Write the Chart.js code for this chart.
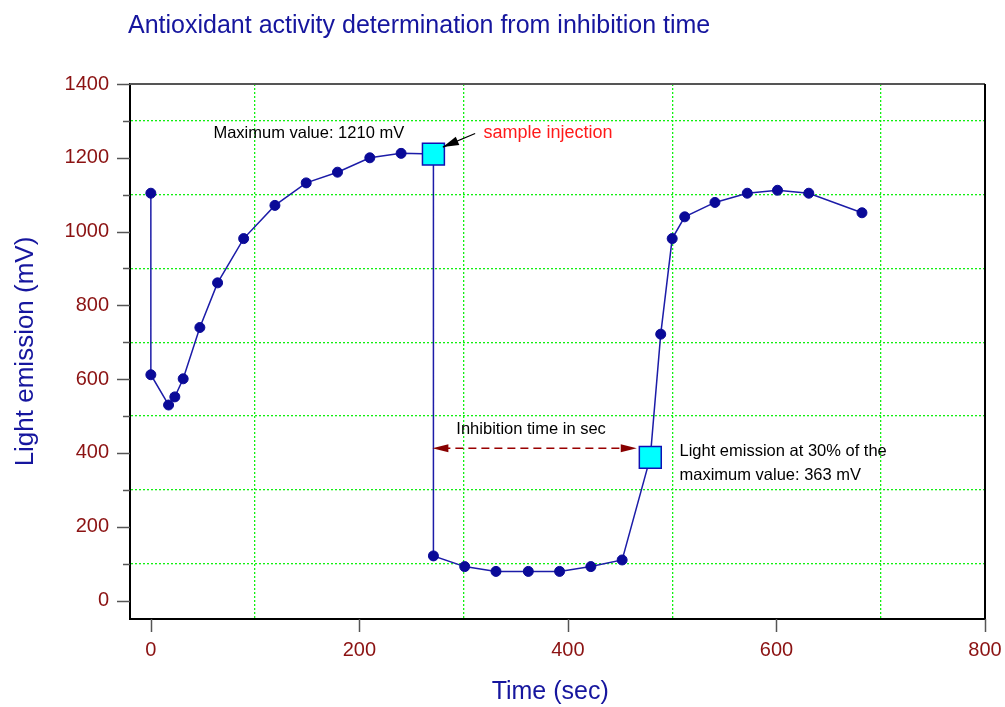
<!DOCTYPE html>
<html>
<head>
<meta charset="utf-8">
<script src="https://cdn.jsdelivr.net/npm/chart.js@4/dist/chart.umd.min.js"></script>
<style>
html,body{margin:0;padding:0;background:#fff;}
#wrap{width:1005px;height:707px;}
</style>
</head>
<body>
<div id="wrap"><canvas id="c" width="1005" height="707"></canvas></div>
<script>
// ---- data ----
const chartTitle = 'Antioxidant activity determination from inhibition time';
const xAxisTitle = 'Time (sec)';
const yAxisTitle = 'Light emission (mV)';

const timeSec    = [0, 0, 17, 23, 31, 47, 64, 89, 119, 149, 179, 210, 240, 271, 271, 301, 331, 362, 392, 422, 452, 479, 489, 500, 512, 541, 572, 601, 631, 682];
const emissionMV = [1104, 612, 530, 552, 601, 740, 861, 981, 1071, 1132, 1161, 1200, 1212, 1210, 121, 92, 79, 79, 79, 92, 110, 388, 722, 981, 1040, 1079, 1104, 1112, 1104, 1051];
const keyPointIndex = [13, 21];

const xTickValues  = [0, 100, 200, 300, 400, 500, 600, 700, 800];
const xLabelValues = [0, 200, 400, 600, 800];
const xGridValues  = [100, 300, 500, 700];
const yTickValues  = [0, 100, 200, 300, 400, 500, 600, 700, 800, 900, 1000, 1100, 1200, 1300, 1400];
const yLabelValues = [0, 200, 400, 600, 800, 1000, 1200, 1400];
const yGridValues  = [100, 300, 500, 700, 900, 1100, 1300];

const noteTexts  = ['Maximum value: 1210 mV', 'sample injection', 'Inhibition time in sec', 'Light emission at 30% of the', 'maximum value: 363 mV'];
const noteX      = [60, 319, 293, 507, 507];
const noteY      = [1267, 1267, 465, 405, 340];
const injectionArrow  = [[311, 1266], [280, 1229]];
const inhibitionArrow = [[270, 413], [466, 413]];
const xTitleCenter = 383;   // in time units, centre of "Time (sec)"

// ---- styles ----
const FONT = "'Liberation Sans', Arial, sans-serif";
const navy = '#16169e';
const tickLabelColor = '#8b1212';
const gridGreen = '#11f011';
const clear = 'rgba(0,0,0,0)';

const isKey = i => keyPointIndex.includes(i);
const points = timeSec.map((t, i) => ({x: t, y: emissionMV[i]}));

function arrowHead(ctx, x1, y1, x2, y2, len, half, color) {
  const a = Math.atan2(y2 - y1, x2 - x1);
  ctx.save();
  ctx.fillStyle = color;
  ctx.beginPath();
  ctx.moveTo(x2, y2);
  ctx.lineTo(x2 - len * Math.cos(a) + half * Math.sin(a), y2 - len * Math.sin(a) - half * Math.cos(a));
  ctx.lineTo(x2 - len * Math.cos(a) - half * Math.sin(a), y2 - len * Math.sin(a) + half * Math.cos(a));
  ctx.closePath();
  ctx.fill();
  ctx.restore();
}

const decorPlugin = {
  id: 'decor',
  afterDraw(chart) {
    const {ctx, chartArea: ca, scales: {x, y}} = chart;
    ctx.save();
    // frame top & right
    ctx.lineWidth = 2;
    ctx.strokeStyle = '#555';
    ctx.beginPath(); ctx.moveTo(ca.left, ca.top); ctx.lineTo(ca.right, ca.top); ctx.stroke();
    ctx.strokeStyle = '#000';
    ctx.beginPath(); ctx.moveTo(ca.right, ca.top); ctx.lineTo(ca.right, ca.bottom + 1); ctx.stroke();
    // tick marks
    ctx.strokeStyle = '#555';
    ctx.lineWidth = 1.5;
    yTickValues.forEach(v => {
      const py = Math.round(y.getPixelForValue(v)) + 0.5;
      const len = yLabelValues.includes(v) ? 13 : 7;
      ctx.beginPath(); ctx.moveTo(ca.left - len, py); ctx.lineTo(ca.left, py); ctx.stroke();
    });
    xLabelValues.forEach(v => {
      const px = Math.round(x.getPixelForValue(v)) + 0.5;
      ctx.beginPath(); ctx.moveTo(px, ca.bottom); ctx.lineTo(px, ca.bottom + 13); ctx.stroke();
    });
    // title
    ctx.fillStyle = navy;
    ctx.font = '25px ' + FONT;
    ctx.textBaseline = 'middle';
    ctx.textAlign = 'left';
    ctx.fillText(chartTitle, 128, 26);
    // x axis title
    ctx.textAlign = 'center';
    ctx.fillText(xAxisTitle, x.getPixelForValue(xTitleCenter), 692);
    ctx.textAlign = 'left';
    // notes
    noteTexts.forEach((t, i) => {
      ctx.fillStyle = i === 1 ? '#ff1a1a' : '#000';
      ctx.font = (i === 1 ? '18px ' : '16.5px ') + FONT;
      ctx.fillText(t, x.getPixelForValue(noteX[i]), y.getPixelForValue(noteY[i]));
    });
    // injection arrow
    const ax1 = x.getPixelForValue(injectionArrow[0][0]), ay1 = y.getPixelForValue(injectionArrow[0][1]);
    const ax2 = x.getPixelForValue(injectionArrow[1][0]), ay2 = y.getPixelForValue(injectionArrow[1][1]);
    ctx.strokeStyle = '#000'; ctx.lineWidth = 1.2;
    ctx.beginPath(); ctx.moveTo(ax1, ay1); ctx.lineTo(ax2, ay2); ctx.stroke();
    arrowHead(ctx, ax1, ay1, ax2, ay2, 16, 4.5, '#000');
    // inhibition double arrow
    const bx1 = x.getPixelForValue(inhibitionArrow[0][0]), by1 = y.getPixelForValue(inhibitionArrow[0][1]);
    const bx2 = x.getPixelForValue(inhibitionArrow[1][0]), by2 = y.getPixelForValue(inhibitionArrow[1][1]);
    ctx.strokeStyle = '#990000'; ctx.lineWidth = 1.5;
    ctx.setLineDash([8, 5]);
    ctx.beginPath(); ctx.moveTo(bx1 + 10, by1); ctx.lineTo(bx2 - 10, by2); ctx.stroke();
    ctx.setLineDash([]);
    arrowHead(ctx, bx2, by2, bx1, by1, 16, 4, '#880000');
    arrowHead(ctx, bx1, by1, bx2, by2, 16, 4, '#880000');
    ctx.restore();
  }
};

new Chart(document.getElementById('c'), {
  type: 'line',
  data: {
    datasets: [{
      data: points,
      borderColor: '#1c1ca8',
      borderWidth: 1.5,
      tension: 0,
      pointStyle: points.map((p, i) => isKey(i) ? 'rect' : 'circle'),
      pointRadius: points.map((p, i) => isKey(i) ? 15.5 : 5),
      pointBackgroundColor: points.map((p, i) => isKey(i) ? '#00ffff' : '#0a0a98'),
      pointBorderColor: points.map((p, i) => isKey(i) ? '#1010b4' : '#0a0a98'),
      pointBorderWidth: points.map((p, i) => isKey(i) ? 1.5 : 1),
      pointHoverRadius: 0
    }]
  },
  options: {
    responsive: false,
    animation: false,
    devicePixelRatio: 1,
    layout: {padding: {top: 84, right: 20, left: 0, bottom: 0}},
    plugins: {legend: {display: false}, tooltip: {enabled: false}, title: {display: false}},
    scales: {
      x: {
        type: 'linear', min: -20, max: 800,
        afterBuildTicks: s => { s.ticks = xTickValues.map(v => ({value: v})); },
        afterFit: s => { s.height = 88; s.paddingRight = 0; s.paddingLeft = 0; },
        ticks: {
          autoSkip: false, maxRotation: 0, padding: 19, color: tickLabelColor,
          font: {family: FONT, size: 20},
          callback: v => xLabelValues.includes(v) ? String(v) : ''
        },
        grid: {
          drawTicks: false, lineWidth: 1.3,
          color: c => (c.tick && xGridValues.includes(c.tick.value)) ? gridGreen : clear
        },
        border: {display: true, color: '#000', width: 2, dash: [2, 2]},
        title: {display: false}
      },
      y: {
        type: 'linear', min: -50, max: 1400,
        afterBuildTicks: s => { s.ticks = yTickValues.map(v => ({value: v})); },
        afterFit: s => { s.width = 130; s.paddingTop = 0; s.paddingBottom = 0; },
        ticks: {
          autoSkip: false, padding: 21, color: tickLabelColor,
          font: {family: FONT, size: 20},
          callback: v => yLabelValues.includes(v) ? String(v) : ''
        },
        grid: {
          drawTicks: false, lineWidth: 1.3,
          color: c => (c.tick && yGridValues.includes(c.tick.value)) ? gridGreen : clear
        },
        border: {display: true, color: '#000', width: 2, dash: [2, 2]},
        title: {display: true, text: yAxisTitle, color: navy, font: {family: FONT, size: 26}, padding: {top: 10, bottom: 0}}
      }
    }
  },
  plugins: [decorPlugin]
});
</script>
</body>
</html>
